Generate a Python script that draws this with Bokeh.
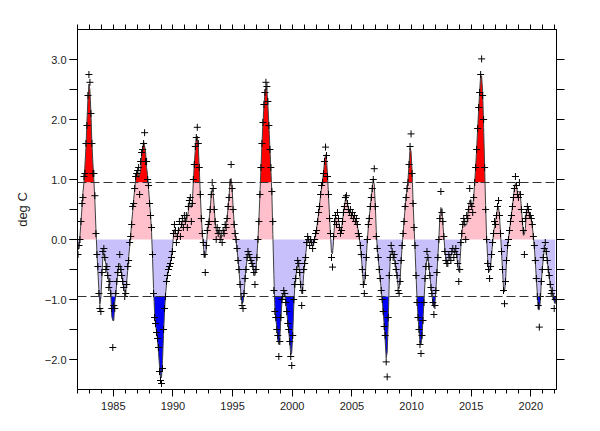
import numpy as np
from bokeh.plotting import figure
from bokeh.models import Range1d, LinearAxis, FixedTicker, Span
from bokeh.embed import file_html
from bokeh.resources import INLINE

# Monthly Nino 3.4 SST anomalies (deg C), Jan..Dec per year
start_year = 1982
y1982 = [-0.25, -0.1, 0.0, 0.3, 0.6, 0.7, 1.05, 1.1, 1.6, 1.9, 2.4, 2.75]
y1983 = [2.62, 2.1, 1.6, 1.1, 1.1, 0.73, 0.1, -0.25, -0.45, -0.9, -1.15, -1.2]
y1984 = [-0.55, -0.2, -0.15, -0.3, -0.5, -0.45, -0.6, -0.8, -0.7, -0.9, -1.15, -1.8]
y1985 = [-1.1, -1.15, -0.9, -0.7, -0.55, -0.45, -0.25, -0.5, -0.6, -0.7, -0.8, -0.95]
y1986 = [-0.9, -0.75, -0.45, -0.35, -0.05, 0.05, 0.25, 0.55, 0.6, 0.85, 1.05, 1.1]
y1987 = [1.15, 1.2, 0.75, 1.3, 1.45, 1.5, 1.6, 1.78, 1.3, 1.3, 1.0, 0.9]
y1988 = [0.6, 0.4, 0.2, -0.25, -0.9, -1.3, -1.4, -1.55, -1.65, -1.8, -2.2, -2.35]
y1989 = [-2.4, -2.15, -1.5, -1.15, -0.95, -0.7, -0.6, -0.5, -0.45, -0.4, -0.3, -0.2]
y1990 = [0.1, 0.25, 0.15, -0.05, 0.05, 0.15, 0.3, 0.05, 0.25, 0.35, 0.2, 0.4]
y1991 = [0.3, 0.4, 0.2, 0.55, 0.65, 0.7, 0.3, 0.6, 1.0, 1.25, 1.55, 1.7]
y1992 = [1.87, 1.6, 1.2, 0.75, 0.35, 0.1, -0.05, -0.25, -0.55, -0.1, 0.15, 0.25]
y1993 = [0.3, 0.5, 0.75, 0.95, 0.85, 0.5, 0.3, 0.0, 0.2, 0.1, 0.15, 0.0]
y1994 = [0.1, -0.05, 0.15, 0.1, 0.25, 0.2, 0.35, 0.55, 0.7, 0.95, 1.25, 0.85]
y1995 = [0.5, 0.25, 0.1, 0.0, -0.15, -0.35, -0.5, -0.75, -0.95, -1.1, -1.15, -0.9]
y1996 = [-0.65, -0.5, -0.3, -0.2, -0.25, -0.3, -0.35, -0.4, -0.45, -0.55, -0.75, -0.5]
y1997 = [-0.3, 0.0, 0.3, 0.75, 1.2, 1.6, 1.95, 2.25, 2.45, 2.62, 2.55, 2.3]
y1998 = [1.9, 1.5, 1.2, 0.8, 0.3, -0.85, -1.2, -1.3, -1.5, -1.6, -1.95, -1.7]
y1999 = [-1.3, -1.0, -0.95, -0.85, -0.9, -1.05, -1.2, -1.4, -1.5, -1.7, -1.95, -2.1]
y2000 = [-1.6, -1.0, -0.75, -0.65, -0.5, -0.35, -0.4, -0.55, -0.75, -1.1, -0.85, -0.5]
y2001 = [-0.4, -0.3, -0.05, 0.05, 0.0, -0.1, 0.0, -0.05, -0.15, -0.05, 0.0, 0.1]
y2002 = [0.15, 0.3, 0.45, 0.55, 0.75, 0.9, 0.95, 1.1, 1.3, 1.54, 1.4, 1.05]
y2003 = [0.75, 0.35, 0.1, -0.3, -0.46, 0.05, 0.3, 0.4, 0.25, 0.45, 0.35, 0.2]
y2004 = [0.1, 0.15, 0.3, 0.45, 0.55, 0.7, 0.73, 0.6, 0.5, 0.45, 0.5, 0.4]
y2005 = [0.45, 0.35, 0.4, 0.3, 0.35, 0.25, 0.1, 0.05, -0.1, -0.25, -0.5, -0.75]
y2006 = [-0.9, -0.6, -0.3, 0.0, 0.25, 0.35, 0.55, 0.7, 0.85, 1.0, 1.18, 0.55]
y2007 = [0.05, -0.15, -0.3, -0.5, -0.65, -0.85, -1.0, -1.2, -1.45, -1.6, -2.04, -2.29]
y2008 = [-1.3, -0.6, -0.3, -0.1, -0.2, -0.3, -0.25, -0.4, -0.5, -0.6, -0.85, -0.9]
y2009 = [-0.7, -0.35, -0.1, 0.1, 0.3, 0.55, 0.7, 0.85, 0.95, 1.25, 1.55, 1.76]
y2010 = [1.1, 0.6, 0.2, -0.1, -0.6, -1.05, -1.3, -1.5, -1.75, -1.9, -1.6, -1.35]
y2011 = [-1.05, -0.65, -0.45, -0.2, -0.3, -0.45, -0.6, -0.8, -0.9, -1.05, -1.25, -1.1]
y2012 = [-0.85, -0.55, -0.3, 0.0, 0.35, 0.8, 0.45, 0.3, 0.05, -0.2, -0.35, -0.4]
y2013 = [-0.4, -0.25, -0.3, -0.35, -0.2, -0.15, -0.3, -0.2, -0.15, -0.25, -0.4, -0.7]
y2014 = [-0.5, -0.05, 0.1, 0.25, 0.35, 0.3, 0.0, 0.4, 0.35, 0.5, 0.85, 0.6]
y2015 = [0.55, 0.45, 0.7, 0.95, 1.2, 1.5, 1.85, 2.2, 2.45, 2.75, 3.01, 2.4]
y2016 = [2.0, 1.2, 0.5, 0.0, -0.4, -0.5, -0.65, -0.45, -0.25, -0.05, 0.1, 0.3]
y2017 = [0.25, 0.4, 0.55, 0.65, 0.4, 0.1, -0.2, -0.5, -0.85, -1.07, -0.7, -0.35]
y2018 = [-0.1, 0.0, 0.15, 0.3, 0.4, 0.55, 0.7, 0.85, 1.05, 0.9, 0.75, 0.7]
y2019 = [0.95, 0.75, 0.5, 0.3, 0.15, -0.25, 0.35, 0.45, 0.55, 0.5, 0.4, 0.4]
y2020 = [0.35, 0.25, 0.05, -0.1, -0.35, -0.65, -0.95, -1.1, -1.46, -0.95, -0.7, -0.5]
y2021 = [-0.3, -0.15, -0.05, -0.2, -0.35, -0.5, -0.6, -0.75, -0.9, -0.85, -0.95, -1.15]
y2022 = [-1.0]

threshold = 0.95          # dashed +/- lines
y_major_ticks = [-2.0, -1.0, 0.0, 1.0, 2.0, 3.0]
y_major_labels = ["\u22122.0", "\u22121.0", "0.0", "1.0", "2.0", "3.0"]
y_half_ticks = [-2.0, -1.5, -1.0, -0.5, 0.0, 0.5, 1.0, 1.5, 2.0, 2.5, 3.0]
x_major_ticks = [1985, 1990, 1995, 2000, 2005, 2010, 2015, 2020]
x_minor_ticks = list(range(1982, 2023))

years = [y1982, y1983, y1984, y1985, y1986, y1987, y1988, y1989, y1990, y1991,
         y1992, y1993, y1994, y1995, y1996, y1997, y1998, y1999, y2000, y2001,
         y2002, y2003, y2004, y2005, y2006, y2007, y2008, y2009, y2010, y2011,
         y2012, y2013, y2014, y2015, y2016, y2017, y2018, y2019, y2020, y2021, y2022]
vals = np.array([v for yr in years for v in yr], dtype=float)
n = len(vals)
t = start_year + (np.arange(n) + 0.5) / 12.0

# 3-month centred running mean (the smooth curve)
smooth = np.array([vals[max(0, i - 1):i + 2].mean() for i in range(n)])

# insert level crossings so that the coloured fills meet exactly
levels = [-threshold, 0.0, threshold]
xs, ys = [t[0]], [smooth[0]]
for i in range(n - 1):
    a, b = smooth[i], smooth[i + 1]
    cross = []
    for L in levels:
        if (a - L) * (b - L) < 0:
            f = (L - a) / (b - a)
            cross.append((t[i] + f * (t[i + 1] - t[i]), L))
    cross.sort()
    for cx, cy in cross:
        xs.append(cx)
        ys.append(cy)
    xs.append(t[i + 1])
    ys.append(b)
xs = np.array(xs)
ys = np.array(ys)

p = figure(x_range=Range1d(1982.0, 2022.15), y_range=Range1d(-2.5, 3.5),
           frame_width=479, frame_height=360,
           min_border_left=77, min_border_right=44, min_border_top=29, min_border_bottom=42,
           x_axis_location=None, y_axis_location=None,
           output_backend="svg", toolbar_location=None,
           background_fill_color="white", border_fill_color="white")
for g in p.grid:
    g.visible = False
p.outline_line_color = "black"
p.outline_line_width = 1

p.varea(x=xs, y1=threshold, y2=np.maximum(ys, threshold), fill_color="#FF0000")
p.varea(x=xs, y1=0.0, y2=np.clip(ys, 0, threshold), fill_color="#FFC0CB")
p.varea(x=xs, y1=np.clip(ys, -threshold, 0), y2=0.0, fill_color="#C8C0FA")
p.varea(x=xs, y1=np.minimum(ys, -threshold), y2=-threshold, fill_color="#0000FF")

for loc in (threshold, -threshold):
    p.add_layout(Span(location=loc, dimension="width", line_color="#333333",
                      line_width=1, line_dash="9 4"))

p.line(xs, ys, line_color="#404040", line_width=1)
p.scatter(t, vals, marker="cross", size=7, line_color="black", line_width=1)

font = "Liberation Sans"
left = LinearAxis(ticker=FixedTicker(ticks=y_major_ticks, minor_ticks=y_half_ticks),
                  major_label_overrides=dict(zip(y_major_ticks, y_major_labels)),
                  axis_label="deg C", axis_label_text_font=font,
                  axis_label_text_font_size="13px", axis_label_text_font_style="normal",
                  axis_label_text_color="#222222", axis_label_standoff=12,
                  major_label_text_font=font, major_label_text_font_size="11px",
                  major_label_text_color="#222222", major_label_standoff=3,
                  major_tick_out=8, major_tick_in=0, minor_tick_out=8, minor_tick_in=0)
# right and top axes: ticks only (no labels) -> tick marks given as minor ticks
right = LinearAxis(ticker=FixedTicker(ticks=[], minor_ticks=y_half_ticks),
                   major_tick_out=0, major_tick_in=0, minor_tick_out=8, minor_tick_in=0)
bottom = LinearAxis(ticker=FixedTicker(ticks=x_major_ticks, minor_ticks=x_minor_ticks),
                    major_label_text_font=font,
                    major_label_text_font_size="11px", major_label_text_color="#222222",
                    major_label_standoff=5,
                    major_tick_out=7, major_tick_in=0, minor_tick_out=4, minor_tick_in=0)
top = LinearAxis(ticker=FixedTicker(ticks=[], minor_ticks=x_minor_ticks),
                 major_tick_out=0, major_tick_in=0, minor_tick_out=5, minor_tick_in=0)
for ax in (left, right, bottom, top):
    ax.axis_line_color = "black"
    ax.major_tick_line_color = "black"
    ax.minor_tick_line_color = "black"
p.add_layout(left, "left")
p.add_layout(right, "right")
p.add_layout(bottom, "below")
p.add_layout(top, "above")

open("out.html", "w").write(file_html(p, INLINE))
